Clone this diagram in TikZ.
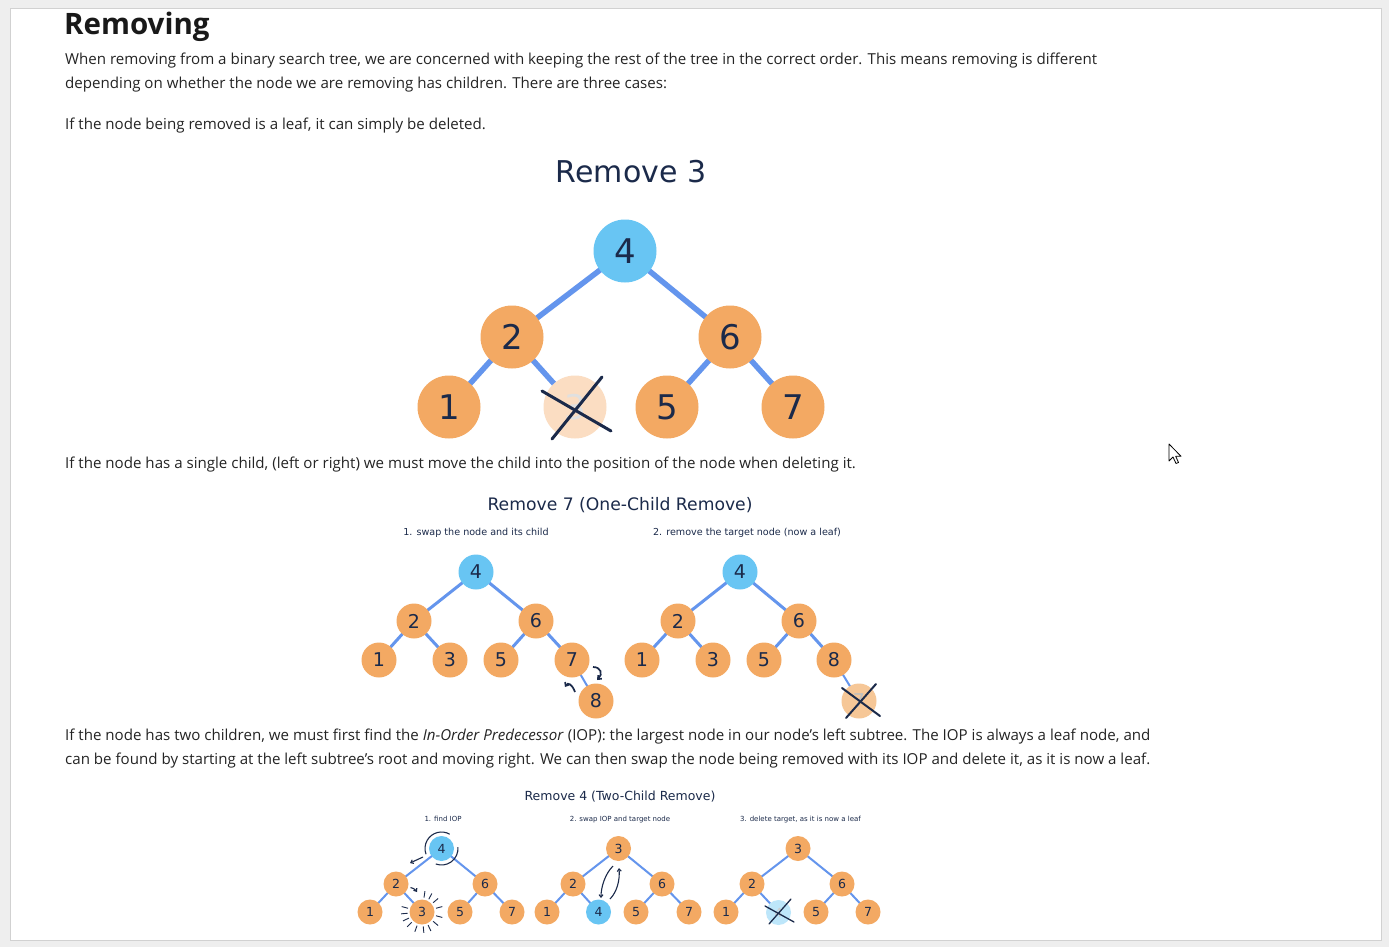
\documentclass[tikz,border=0pt]{standalone}
\usepackage{fontspec}
\setmainfont{Open Sans}
\newfontfamily\dv{DejaVu Sans}
\usetikzlibrary{arrows.meta,calc}
\definecolor{nodeor}{HTML}{F3A963}
\definecolor{nodebl}{HTML}{68C5F3}
\definecolor{edgebl}{HTML}{6495ED}
\definecolor{navy}{HTML}{1B2A4A}
\definecolor{bodytxt}{HTML}{242424}
\definecolor{fadeor}{HTML}{FBDDC2}
\definecolor{fadeor2}{HTML}{F6C797}
\definecolor{fadebl}{HTML}{BDE6FA}
\definecolor{pagebg}{HTML}{EEEEEE}
\pgfdeclarelayer{bg}\pgfdeclarelayer{edges}\pgfsetlayers{bg,edges,main}
\begin{document}
\begin{tikzpicture}[x=1pt,y=-1pt,
  bigN/.style={circle,inner sep=0pt,minimum size=63pt,text=navy,font=\dv\fontsize{34}{34}\selectfont},
  midN/.style={circle,inner sep=0pt,minimum size=35pt,text=navy,font=\dv\fontsize{19}{19}\selectfont},
  smlN/.style={circle,inner sep=0pt,minimum size=25pt,text=navy,font=\dv\fontsize{12.5}{12.5}\selectfont},
  orN/.style={fill=nodeor},
  blN/.style={fill=nodebl},
  eone/.style={edgebl,line width=5.5pt},
  etwo/.style={edgebl,line width=3pt},
  ethree/.style={edgebl,line width=2pt},
  body/.style={anchor=base west,inner sep=0pt,text=bodytxt,font=\fontsize{15.1}{18}\selectfont},
  dtitle/.style={anchor=base,inner sep=0pt,text=navy},
  arrtwo/.style={navy,line width=1.7pt,-{Straight Barb[length=3pt,width=5pt]}},
  arrthree/.style={navy,line width=1.1pt,-{Straight Barb[length=2.5pt,width=4pt]}}
]
\useasboundingbox (0,0) rectangle (1389,947);
\begin{pgfonlayer}{bg}
\fill[pagebg] (0,0) rectangle (1389,947);
\fill[white,draw=black!18] (10,8) rectangle (1381,940);
\end{pgfonlayer}

% ---------- text ----------
\node[anchor=base west,inner sep=0pt,text=black!90,font=\bfseries\fontsize{29.5}{31}\selectfont] (h) at (64,35) {Removing};
\node[body] (t1) at (65,65) {When removing from a binary search tree, we are concerned with keeping the rest of the tree in the correct order. This means removing is different};
\node[body] (t2) at (65,89) {depending on whether the node we are removing has children. There are three cases:};
\node[body] (t3) at (65,129) {If the node being removed is a leaf, it can simply be deleted.};
\node[body] (t4) at (65,468) {If the node has a single child, (left or right) we must move the child into the position of the node when deleting it.};
\node[body] (t5) at (65,740) {If the node has two children, we must first find the \textit{In-Order Predecessor} (IOP): the largest node in our node’s left subtree. The IOP is always a leaf node, and};
\node[body] (t6) at (65,764) {can be found by starting at the left subtree’s root and moving right. We can then swap the node being removed with its IOP and delete it, as it is now a leaf.};

% ---------- diagram 1 ----------
\node[dtitle,font=\dv\fontsize{30}{30}\selectfont] (d1t) at (631,182) {Remove 3};
\node[bigN,blN] (a4) at (625,251) {4};
\node[bigN,orN] (a2) at (512,337) {2};
\node[bigN,orN] (a6) at (730,337) {6};
\node[bigN,orN] (a1) at (449,407) {1};
\node[bigN,fill=fadeor,text=black!12] (a3) at (575,407) {3};
\node[bigN,orN] (a5) at (667,407) {5};
\node[bigN,orN] (a7) at (793,407) {7};
\begin{pgfonlayer}{edges}
\draw[eone] (a4.center) -- (a2.center);
\draw[eone] (a4.center) -- (a6.center);
\draw[eone] (a2.center) -- (a1.center);
\draw[eone] (a2.center) -- (a3.center);
\draw[eone] (a6.center) -- (a5.center);
\draw[eone] (a6.center) -- (a7.center);
\end{pgfonlayer}
\draw[navy,line width=3pt,line cap=round] (542,391) -- (611,431);
\draw[navy,line width=3pt,line cap=round] (552,439) -- (602,377);

% ---------- diagram 2 ----------
\node[dtitle,font=\dv\fontsize{17.2}{17.2}\selectfont] (d2t) at (620,510) {Remove 7 (One-Child Remove)};
\node[dtitle,font=\dv\fontsize{9.6}{9.6}\selectfont] (d2s1) at (476,535) {1. swap the node and its child};
\node[dtitle,font=\dv\fontsize{9.6}{9.6}\selectfont] (d2s2) at (747,535) {2. remove the target node (now a leaf)};
\node[midN,blN] (b4) at (476,572) {4};
\node[midN,orN] (b2) at (414,621) {2};
\node[midN,orN] (b6) at (536,621) {6};
\node[midN,orN] (b1) at (379,660) {1};
\node[midN,orN] (b3) at (450,660) {3};
\node[midN,orN] (b5) at (501,660) {5};
\node[midN,orN] (b7) at (572,660) {7};
\node[midN,orN] (b8) at (596,701) {8};
\node[midN,blN] (c4) at (740,572) {4};
\node[midN,orN] (c2) at (678,621) {2};
\node[midN,orN] (c6) at (799,621) {6};
\node[midN,orN] (c1) at (642,660) {1};
\node[midN,orN] (c3) at (713,660) {3};
\node[midN,orN] (c5) at (764,660) {5};
\node[midN,orN] (c8) at (834,660) {8};
\node[midN,fill=fadeor2,text=black!25] (c7) at (859,701) {7};
\begin{pgfonlayer}{edges}
\foreach \p/\q in {b4/b2,b4/b6,b2/b1,b2/b3,b6/b5,b6/b7,c4/c2,c4/c6,c2/c1,c2/c3,c6/c5,c6/c8}
  \draw[etwo] (\p.center) -- (\q.center);
\draw[edgebl,line width=2pt] (b7.center) -- (b8.center);
\draw[edgebl,line width=2pt] (c8.center) -- (c7.center);
\end{pgfonlayer}
\draw[arrtwo] (593,667) .. controls (601,667) and (603,674) .. (597,680);
\draw[arrtwo] (575,692) .. controls (572,684) and (568,682) .. (565,687);
\draw[navy,line width=2pt,line cap=round] (842,688) -- (880,716);
\draw[navy,line width=2pt,line cap=round] (846,718) -- (876,684);

% ---------- diagram 3 ----------
\node[dtitle,font=\dv\fontsize{12.5}{12.5}\selectfont] (d3t) at (620,800.5) {Remove 4 (Two-Child Remove)};
\node[dtitle,font=\dv\fontsize{7}{7}\selectfont] (d3s1) at (443,821.5) {1. find IOP};
\node[dtitle,font=\dv\fontsize{7}{7}\selectfont] (d3s2) at (620,821.5) {2. swap IOP and target node};
\node[dtitle,font=\dv\fontsize{7}{7}\selectfont] (d3s3) at (800.5,821.5) {3. delete target, as it is now a leaf};
% tree 1
\node[smlN,blN] (d4) at (441.5,848.5) {4};
\node[smlN,orN] (d2) at (396,884) {2};
\node[smlN,orN] (d6) at (485,884) {6};
\node[smlN,orN] (d1) at (370,912) {1};
\node[smlN,orN] (d3) at (422,912) {3};
\node[smlN,orN] (d5) at (460,912) {5};
\node[smlN,orN] (d7) at (512,912) {7};
% tree 2
\node[smlN,orN] (e3) at (618.5,848.5) {3};
\node[smlN,orN] (e2) at (573,884) {2};
\node[smlN,orN] (e6) at (662,884) {6};
\node[smlN,orN] (e1) at (547,912) {1};
\node[smlN,blN] (e4) at (598.5,912) {4};
\node[smlN,orN] (e5) at (636,912) {5};
\node[smlN,orN] (e7) at (689,912) {7};
% tree 3
\node[smlN,orN] (f3) at (798,848.5) {3};
\node[smlN,orN] (f2) at (752,884) {2};
\node[smlN,orN] (f6) at (842,884) {6};
\node[smlN,orN] (f1) at (726,912) {1};
\node[smlN,fill=fadebl,text=black!20] (f4) at (778.5,912.5) {4};
\node[smlN,orN] (f5) at (816,912) {5};
\node[smlN,orN] (f7) at (868,912) {7};
\begin{pgfonlayer}{edges}
\foreach \p/\q in {d4/d2,d4/d6,d2/d1,d2/d3,d6/d5,d6/d7,e3/e2,e3/e6,e2/e1,e2/e4,e6/e5,e6/e7,f3/f2,f3/f6,f2/f1,f2/f4,f6/f5,f6/f7}
  \draw[ethree] (\p.center) -- (\q.center);
\end{pgfonlayer}
% tree 1 decorations
\draw[navy,line width=1.1pt] ($(d4)+(-60:16.5)$) arc[start angle=-60,end angle=-200,radius=16.5];
\draw[navy,line width=1.1pt] ($(d4)+(-5:16.5)$) arc[start angle=-5,end angle=110,radius=16.5];
\draw[arrthree] (423,857) -- (410,863);
\draw[arrthree] (410.5,887.5) .. controls (413,888) and (415,889) .. (417,892);
\foreach \a in {165,185,205,225,250,275,295,320,345,15,40,62,82}
  \draw[navy,line width=0.9pt] ($(d3)+(-\a:14.5)$) -- ($(d3)+(-\a:21)$);
% tree 2 decorations
\draw[arrthree] (613,866) .. controls (605,874) and (601,887) .. (601,898);
\draw[arrthree] (610,899) .. controls (617,892) and (620,880) .. (619,868);
% tree 3 cross
\draw[navy,line width=1.3pt,line cap=round] (765,906) -- (794,922);
\draw[navy,line width=1.3pt,line cap=round] (769,924) -- (791,899);

% ---------- mouse cursor ----------
\coordinate (cur) at (1169,444);
\draw[black,fill=white,line width=0.8pt,line join=round]
  (cur) -- ++(0,17) -- ++(4,-4) -- ++(3,6.5) -- ++(2.5,-1) -- ++(-2.8,-6.2) -- ++(5.3,0) -- cycle;
\end{tikzpicture}
\end{document}
